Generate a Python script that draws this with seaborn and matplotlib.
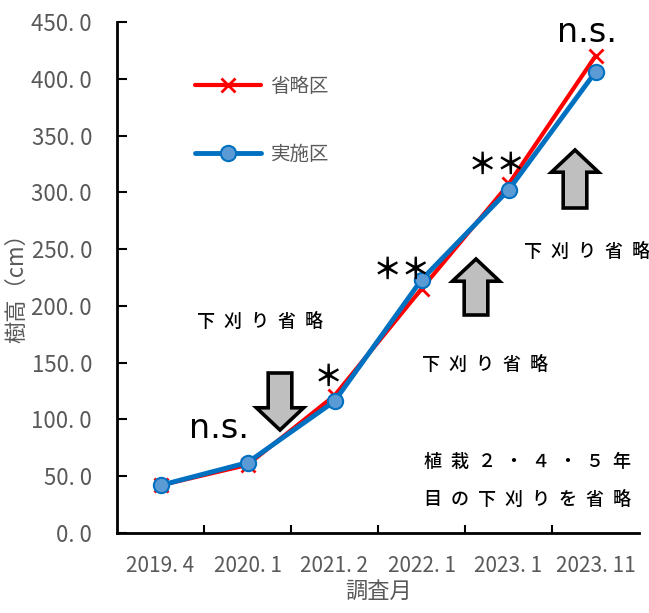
import numpy as np
import pandas as pd
import matplotlib
matplotlib.use("Agg")
import matplotlib.pyplot as plt
import seaborn as sns
from matplotlib.patches import FancyArrowPatch
from matplotlib.ticker import FixedLocator

sns.set_theme(style="white")
plt.rcParams["font.family"] = ["Noto Sans CJK JP", "DejaVu Sans"]

# ---------------------------
# data
# ---------------------------
months = ["2019.4", "2020.1", "2021.2", "2022.1", "2023.1", "2023.11"]
omit_height = [42, 60, 121, 215, 307, 420]      # 省略区
control_height = [42, 62, 116, 223, 302, 406]   # 実施区
series_names = ["省略区", "実施区"]
y_ticks = [0, 50, 100, 150, 200, 250, 300, 350, 400, 450]

df = pd.DataFrame({
    "調査月": months * 2,
    "樹高": omit_height + control_height,
    "区": [series_names[0]] * len(months) + [series_names[1]] * len(months),
})

gray = "#595959"
W, H = 649, 613
fig = plt.figure(figsize=(W / 100, H / 100), dpi=100)
ax = fig.add_axes([117 / W, 1 - 533 / H, 522 / W, 511 / H])

# lines
sns.lineplot(data=df[df["区"] == "省略区"], x="調査月", y="樹高", ax=ax,
             color="#FF0000", lw=3, marker="x", markersize=10, mew=2,
             markeredgecolor="#FF0000", label="省略区", sort=False)
sns.lineplot(data=df[df["区"] == "実施区"], x="調査月", y="樹高", ax=ax,
             color="#0070C0", lw=3.5, marker="o", markersize=11,
             markerfacecolor="#5B9BD5", markeredgecolor="#0070C0", mew=1.5,
             label="実施区", sort=False)

ax.set_xlim(-0.5, len(months) - 0.5)
ax.set_ylim(0, 450)
ax.set_yticks(y_ticks)
ax.set_yticklabels([f"{v:.1f}".replace(".", ". ") for v in y_ticks])
ax.set_xticks(range(len(months)))
ax.set_xticklabels([m.replace(".", ". ") for m in months])
ax.xaxis.set_minor_locator(FixedLocator(np.arange(0.5, len(months) - 1, 1.0)))

for s in ["top", "right"]:
    ax.spines[s].set_visible(False)
for s in ["left", "bottom"]:
    ax.spines[s].set_color("black")
    ax.spines[s].set_linewidth(2)

ax.tick_params(axis="y", direction="in", length=7, width=1.5, color="black",
               labelsize=16, labelcolor=gray, pad=18, left=True)
ax.tick_params(axis="x", which="major", length=0, labelsize=15,
               labelcolor=gray, pad=16)
ax.tick_params(axis="x", which="minor", direction="in", length=6, width=1.5,
               color="black", bottom=True)

ax.set_xlabel("調査月", fontsize=16, color=gray, labelpad=2)
ax.set_ylabel("樹高（cm）", fontsize=16, color=gray)
ax.yaxis.set_label_coords(-0.17, 0.49)
ax.grid(False)

leg = ax.legend(loc="upper left", bbox_to_anchor=(0.149, 0.895), frameon=False,
                fontsize=14, handlelength=3.4, handletextpad=0.5,
                labelspacing=2.45, borderpad=0, borderaxespad=0)
for t in leg.get_texts():
    t.set_color(gray)


# annotations (positions given in image pixels -> axes fraction)
def pos(px, py):
    return ((px - 117) / 522, (533 - py) / 511)


sp = "\u2002"
note_kw = dict(transform=ax.transAxes, ha="center", va="center",
               fontsize=13, fontweight="medium", color="black", clip_on=False)
for px, py in [(260, 322), (485, 365), (587, 252)]:
    ax.text(*pos(px, py), sp.join("下刈り省略"), **note_kw)
ax.text(*pos(527, 462), sp.join("植栽２・４・５年"), **note_kw)
ax.text(*pos(527, 500), sp.join("目の下刈りを省略"), **note_kw)

ns_kw = dict(transform=ax.transAxes, ha="center", va="center", fontsize=24,
             color="black", family="DejaVu Sans", clip_on=False)
ax.text(*pos(219, 429), "n.s.", **ns_kw)
ax.text(*pos(587, 32), "n.s.", **ns_kw)

star_kw = dict(transform=ax.transAxes, ha="center", va="center", fontsize=21,
               fontweight="bold", color="black", clip_on=False)
ax.text(*pos(328, 377), "＊", **star_kw)
ax.text(*pos(402, 270), "＊＊", **star_kw)
ax.text(*pos(497, 165), "＊＊", **star_kw)

# block arrows: (center x, tail y, tip y) in image pixels
arrows = [(280, 373, 430), (476, 315, 259), (575, 208, 150)]
for px, y0, y1 in arrows:
    a = FancyArrowPatch(pos(px, y0), pos(px, y1), transform=ax.transAxes,
                        arrowstyle="simple,head_length=16,head_width=34,tail_width=17",
                        mutation_scale=1, shrinkA=0, shrinkB=0,
                        fc="#BFBFBF", ec="black", lw=2.6, clip_on=False,
                        joinstyle="miter")
    ax.add_patch(a)

fig.savefig("out.png", dpi=100)
